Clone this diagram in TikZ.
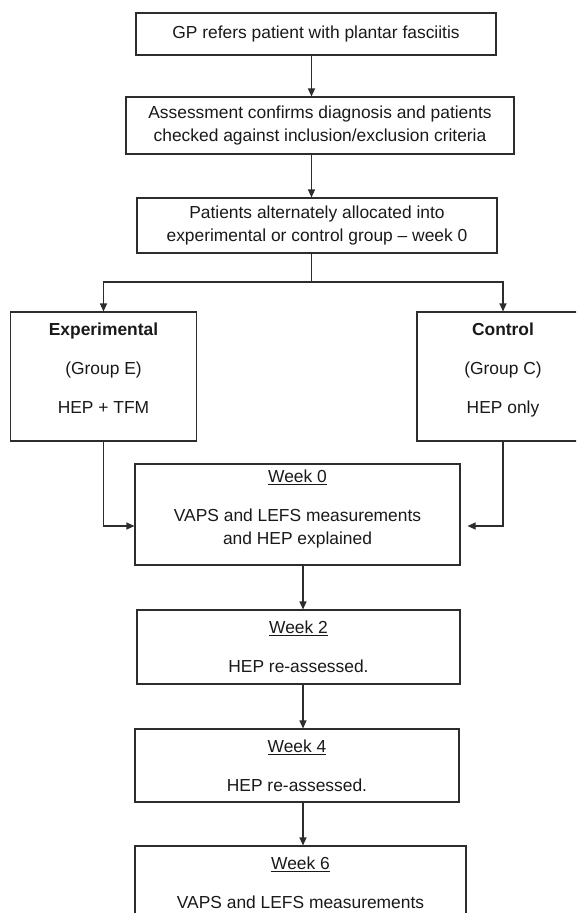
\documentclass[tikz,border=0pt]{standalone}
\usepackage{fontspec}
\setmainfont{Liberation Sans}
\usetikzlibrary{arrows.meta,positioning,calc}
\definecolor{LineGrey}{RGB}{45,45,45}
\definecolor{TextGrey}{RGB}{25,25,25}
\newcommand{\padbelow}[1]{\rule[-#1]{0pt}{0pt}}

\begin{document}
\begin{tikzpicture}[x=1pt,y=-1pt,
  box/.style={draw=LineGrey,line width=1.1pt,inner sep=0pt,align=center,
              text=TextGrey,font=\fontsize{17.4}{22.5}\selectfont},
  link/.style={draw=LineGrey,line width=1.1pt},
  arr/.style={link,-{Triangle[length=8pt,width=7pt]}},
]
\useasboundingbox (0,0) rectangle (576,913);
\clip (0,0) rectangle (576,913);
% referral and allocation
\node[box,minimum width=360pt,minimum height=42pt] (gp) at (316,34) {GP refers patient with plantar fasciitis};
\node[box,minimum width=388pt,minimum height=57pt] (assess) at (320,125.5) {Assessment confirms diagnosis and patients\\checked against inclusion/exclusion criteria};
\node[box,minimum width=360pt,minimum height=55pt] (alloc) at (317,225.5) {Patients alternately allocated into\\experimental or control group \textendash{} week 0};
% groups
\node[box,minimum width=186pt,minimum height=129pt] (expt) at (103.5,376.5) {\textbf{Experimental}\\[16.5pt](Group E)\\[16.5pt]HEP + TFM\padbelow{17pt}};
\node[box,minimum width=172pt,minimum height=129pt] (ctrl) at (503,376.5) {\textbf{Control}\\[16.5pt](Group C)\\[16.5pt]HEP only\padbelow{17pt}};
% follow-up
\node[box,minimum width=325pt,minimum height=101pt] (wk0) at (297.5,514.5) {\underline{Week 0}\\[16.5pt]VAPS and LEFS measurements\\and HEP explained\padbelow{15pt}};
\node[box,minimum width=323pt,minimum height=74pt] (wk2) at (298.5,647) {\underline{Week 2}\\[16.5pt]HEP re-assessed.};
\node[box,minimum width=324pt,minimum height=73pt] (wk4) at (297,765.5) {\underline{Week 4}\\[16.5pt]HEP re-assessed.};
\node[box,minimum width=331pt,minimum height=74pt] (wk6) at (300.5,883) {\underline{Week 6}\\[16.5pt]VAPS and LEFS measurements};

\coordinate (trunk) at (311.5,0);
\coordinate (split) at (311.5,282);
\coordinate (spine) at (303,0);

\draw[arr] (gp.south -| trunk) -- (assess.north -| trunk);
\draw[arr] (assess.south -| trunk) -- (alloc.north -| trunk);
\draw[link] (alloc.south -| trunk) -- (split);
\draw[arr] (split) -| (expt.north);
\draw[arr] (split) -| (ctrl.north);
\draw[arr] (expt.south) |- ([yshift=-11.5pt]wk0.west);
\draw[arr,shorten >=7pt] (ctrl.south) |- ([yshift=-11.5pt]wk0.east);
\draw[arr] (wk0.south -| spine) -- (wk2.north -| spine);
\draw[arr] (wk2.south -| spine) -- (wk4.north -| spine);
\draw[arr] (wk4.south -| spine) -- (wk6.north -| spine);
\end{tikzpicture}
\end{document}
